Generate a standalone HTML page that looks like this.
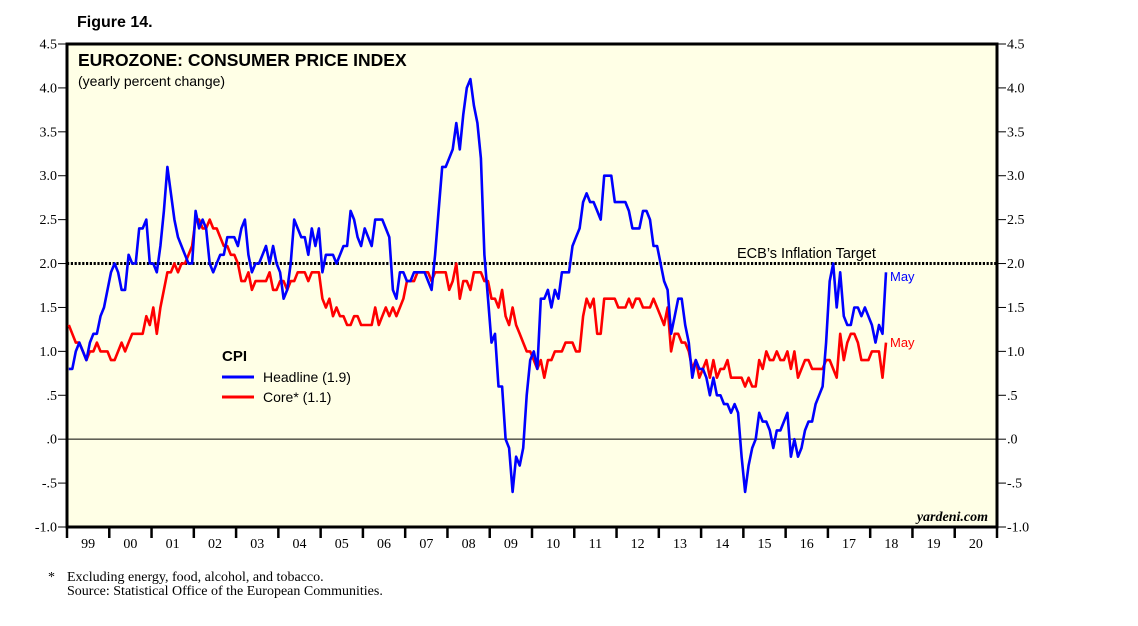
<!DOCTYPE html>
<html><head><meta charset="utf-8"><style>
body{margin:0;background:#fff;width:1138px;height:621px;overflow:hidden}
svg{font-family:"Liberation Serif",serif}
</style></head><body>
<svg width="1138" height="621">
<rect x="67" y="44" width="930" height="483" fill="#FFFFE6" stroke="#000" stroke-width="3"/>
<text x="77" y="27" font-family="Liberation Sans" font-weight="bold" font-size="16">Figure 14.</text>
<text x="78" y="66" font-family="Liberation Sans" font-weight="bold" font-size="17.5">EUROZONE: CONSUMER PRICE INDEX</text>
<text x="78" y="86" font-family="Liberation Sans" font-size="14">(yearly percent change)</text>
<g id="axes"></g>
<g id="series"></g>
<text x="737" y="258" font-family="Liberation Sans" font-size="14.5">ECB’s Inflation Target</text>
<text x="890" y="281" font-family="Liberation Sans" font-size="13" fill="#0000ff">May</text>
<text x="890" y="347" font-family="Liberation Sans" font-size="13" fill="#ff0000">May</text>
<g>
<text x="222" y="361" font-family="Liberation Sans" font-weight="bold" font-size="15">CPI</text>
<line x1="222" y1="377" x2="254" y2="377" stroke="#0000ff" stroke-width="3"/>
<text x="263" y="382" font-family="Liberation Sans" font-size="14">Headline (1.9)</text>
<line x1="222" y1="397" x2="254" y2="397" stroke="#ff0000" stroke-width="3"/>
<text x="263" y="402" font-family="Liberation Sans" font-size="14">Core* (1.1)</text>
</g>
<text x="988" y="521" text-anchor="end" font-style="italic" font-weight="bold" font-size="14">yardeni.com</text>
<text x="48" y="581" font-size="14">*</text>
<text x="67" y="581" font-size="14">Excluding energy, food, alcohol, and tobacco.</text>
<text x="67" y="595" font-size="14">Source: Statistical Office of the European Communities.</text>
</svg>
<script>
const yTicks=[4.5,4.0,3.5,3.0,2.5,2.0,1.5,1.0,0.5,0,-0.5,-1.0];
const yTickLabels=["4.5","4.0","3.5","3.0","2.5","2.0","1.5","1.0",".5",".0","-.5","-1.0"];
const yearLabels=["99","00","01","02","03","04","05","06","07","08","09","10","11","12","13","14","15","16","17","18","19","20"];
const target=2.0;
const headline=[0.8,0.8,1.0,1.1,1.0,0.9,1.1,1.2,1.2,1.4,1.5,1.7,
1.9,2.0,1.9,1.7,1.7,2.1,2.0,2.0,2.4,2.4,2.5,2.0,
2.0,1.9,2.2,2.6,3.1,2.8,2.5,2.3,2.2,2.1,2.0,2.0,
2.6,2.4,2.5,2.4,2.0,1.9,2.0,2.1,2.1,2.3,2.3,2.3,
2.2,2.4,2.5,2.1,1.9,2.0,2.0,2.1,2.2,2.0,2.2,2.0,
1.9,1.6,1.7,2.0,2.5,2.4,2.3,2.3,2.1,2.4,2.2,2.4,
1.9,2.1,2.1,2.1,2.0,2.1,2.2,2.2,2.6,2.5,2.3,2.2,
2.4,2.3,2.2,2.5,2.5,2.5,2.4,2.3,1.7,1.6,1.9,1.9,
1.8,1.8,1.9,1.9,1.9,1.9,1.8,1.7,2.1,2.6,3.1,3.1,
3.2,3.3,3.6,3.3,3.7,4.0,4.1,3.8,3.6,3.2,2.1,1.6,
1.1,1.2,0.6,0.6,0.0,-0.1,-0.6,-0.2,-0.3,-0.1,0.5,0.9,
1.0,0.8,1.6,1.6,1.7,1.5,1.7,1.6,1.9,1.9,1.9,2.2,
2.3,2.4,2.7,2.8,2.7,2.7,2.6,2.5,3.0,3.0,3.0,2.7,
2.7,2.7,2.7,2.6,2.4,2.4,2.4,2.6,2.6,2.5,2.2,2.2,
2.0,1.8,1.7,1.2,1.4,1.6,1.6,1.3,1.1,0.7,0.9,0.8,
0.8,0.7,0.5,0.7,0.5,0.5,0.4,0.4,0.3,0.4,0.3,-0.2,
-0.6,-0.3,-0.1,0.0,0.3,0.2,0.2,0.1,-0.1,0.1,0.1,0.2,
0.3,-0.2,0.0,-0.2,-0.1,0.1,0.2,0.2,0.4,0.5,0.6,1.1,
1.8,2.0,1.5,1.9,1.4,1.3,1.3,1.5,1.5,1.4,1.5,1.4,
1.3,1.1,1.3,1.2,1.9];
const core=[1.3,1.2,1.1,1.1,1.0,0.9,1.0,1.0,1.1,1.0,1.0,1.0,
0.9,0.9,1.0,1.1,1.0,1.1,1.2,1.2,1.2,1.2,1.4,1.3,
1.5,1.2,1.5,1.7,1.9,1.9,2.0,1.9,2.0,2.0,2.1,2.2,
2.5,2.5,2.4,2.4,2.5,2.4,2.4,2.3,2.2,2.2,2.1,2.1,
2.0,1.8,1.8,1.9,1.7,1.8,1.8,1.8,1.8,1.9,1.7,1.7,
1.8,1.8,1.7,1.8,1.8,1.9,1.9,1.9,1.8,1.9,1.9,1.9,
1.6,1.5,1.6,1.4,1.5,1.4,1.4,1.3,1.3,1.4,1.4,1.3,
1.3,1.3,1.3,1.5,1.3,1.4,1.5,1.4,1.5,1.4,1.5,1.6,
1.8,1.8,1.8,1.9,1.9,1.9,1.9,1.8,1.9,1.9,1.9,1.9,
1.7,1.8,2.0,1.6,1.8,1.8,1.7,1.9,1.9,1.9,1.8,1.8,
1.6,1.6,1.5,1.7,1.4,1.3,1.5,1.3,1.2,1.1,1.0,1.0,
0.9,0.8,0.9,0.7,0.9,0.9,1.0,1.0,1.0,1.1,1.1,1.1,
1.0,1.0,1.4,1.6,1.5,1.6,1.2,1.2,1.6,1.6,1.6,1.6,
1.5,1.5,1.5,1.6,1.5,1.6,1.6,1.5,1.5,1.5,1.6,1.5,
1.4,1.3,1.5,1.0,1.2,1.2,1.1,1.1,1.0,0.8,0.9,0.7,
0.8,0.9,0.7,0.9,0.7,0.8,0.8,0.9,0.7,0.7,0.7,0.7,
0.6,0.7,0.6,0.6,0.9,0.8,1.0,0.9,0.9,1.0,0.9,0.9,
1.0,0.8,1.0,0.7,0.8,0.9,0.9,0.8,0.8,0.8,0.8,0.9,
0.9,0.8,0.7,1.2,0.9,1.1,1.2,1.2,1.1,0.9,0.9,0.9,
1.0,1.0,1.0,0.7,1.1];
const X0=67,X1=997,Y0=44,Y1=527,YMAX=4.5,YMIN=-1.0,NYEARS=22;
const yW=(X1-X0)/NYEARS;
function ys(v){return Y0+(YMAX-v)/(YMAX-YMIN)*(Y1-Y0);}
function xs(i){return X0+(i+0.5)/12*yW;}
const NS="http://www.w3.org/2000/svg";
function mk(tag,attrs,parent,txt){const e=document.createElementNS(NS,tag);for(const k in attrs)e.setAttribute(k,attrs[k]);if(txt!==undefined)e.textContent=txt;parent.appendChild(e);return e;}
const ax=document.getElementById('axes');
yTicks.forEach((v,k)=>{
 const y=ys(v);
 let t=mk('line',{x1:X0-9,y1:y,x2:X0,y2:y,stroke:'#000'},ax);
 
 
 t=mk('line',{x1:X1,y1:y,x2:X1+9,y2:y,stroke:'#000'},ax);
 
 
 t=mk('text',{x:X0-10,y:y+4.5,'text-anchor':'end','font-size':14},ax,yTickLabels[k]);
 
 
 t=mk('text',{x:X1+10,y:y+4.5,'font-size':14},ax,yTickLabels[k]);
 
 
});
let zl=mk('line',{x1:X0,y1:ys(0),x2:X1,y2:ys(0),stroke:'#000','stroke-width':1},ax);


let tl=mk('line',{x1:X0,y1:ys(target),x2:X1,y2:ys(target),stroke:'#000','stroke-width':3,'stroke-dasharray':'2.2 1.6'},ax);


for(let k=0;k<=NYEARS;k++){
 const x=X0+k*yW;
 let t=mk('line',{x1:x,y1:Y1,x2:x,y2:Y1+11,stroke:'#000','stroke-width':2.5},ax);
 
 
 if(k<yearLabels.length){
  t=mk('text',{x:x+yW/2,y:Y1+21,'text-anchor':'middle','font-size':14},ax,yearLabels[k]);
  
  
 }
}
const sg=document.getElementById('series');
function line(data,color,name){
 const d=data.map((v,i)=>(i?'L':'M')+xs(i).toFixed(1)+','+ys(v).toFixed(1)).join('');
 const p=mk('path',{d:d,fill:'none',stroke:color,'stroke-width':2.6,'stroke-linejoin':'round'},sg);
 
 
}
line(core,'#ff0000','core-line');
line(headline,'#0000ff','headline-line');
</script>
</body></html>
